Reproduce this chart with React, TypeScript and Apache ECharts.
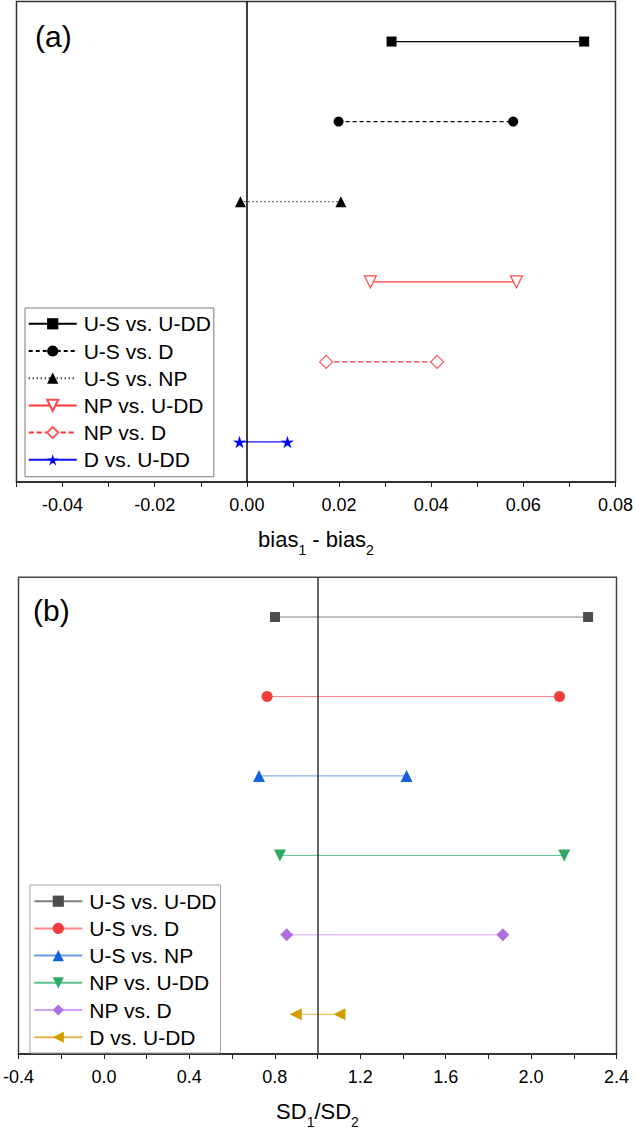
import React, { useEffect, useRef } from 'react';
import * as echarts from 'echarts';

// ---- data ----
const categories = ['U-S vs. U-DD', 'U-S vs. D', 'U-S vs. NP', 'NP vs. U-DD', 'NP vs. D', 'D vs. U-DD'];
const biasLow = [0.0314, 0.0199, -0.0014, 0.0268, 0.0172, -0.0016];
const biasHigh = [0.0732, 0.0578, 0.0204, 0.0585, 0.0413, 0.0088];
const sdLow = [0.801, 0.764, 0.726, 0.824, 0.856, 0.898];
const sdHigh = [2.267, 2.133, 1.417, 2.155, 1.868, 1.103];
const biasRange = [-0.05, 0.08];
const sdRange = [-0.4, 2.4];
const biasRef = 0;
const sdRef = 1;

const FONT = '"Liberation Sans", Arial, Helvetica, sans-serif';
const STAR = 'path://M50,0L61.2,35.5L97.6,34.5L68.1,56L79.4,90.5L50,69L20.6,90.5L31.9,56L2.4,34.5L38.8,35.5Z';

const styleA = [
  { symbol: 'rect', size: 10, rotate: 0, line: '#000', lineType: 'solid', fill: '#000', border: '#000' },
  { symbol: 'circle', size: 10, rotate: 0, line: '#000', lineType: [4, 3], fill: '#000', border: '#000' },
  { symbol: 'triangle', size: 11, rotate: 0, line: '#000', lineType: [1, 3], fill: '#000', border: '#000' },
  { symbol: 'triangle', size: 12, rotate: 180, line: '#ff3838', lineType: 'solid', fill: '#fff', border: '#ff4a4a' },
  { symbol: 'diamond', size: 13, rotate: 0, line: '#ff3030', lineType: [5, 3], fill: '#fff', border: '#ff5a5a' },
  { symbol: STAR, size: 13, rotate: 0, line: '#1010ff', lineType: 'solid', fill: '#0000ff', border: '#0000ff' },
];
const styleB = [
  { symbol: 'rect', size: 10, rotate: 0, line: '#7f7f7f', fill: '#4d4d4d' },
  { symbol: 'circle', size: 11, rotate: 0, line: '#ff8585', fill: '#f23c3c' },
  { symbol: 'triangle', size: 12, rotate: 0, line: '#6a9be3', fill: '#1562d8' },
  { symbol: 'triangle', size: 12, rotate: 180, line: '#5cc28c', fill: '#2ea862' },
  { symbol: 'diamond', size: 13, rotate: 0, line: '#d4a3f2', fill: '#b06ee0' },
  { symbol: 'triangle', size: 12, rotate: 90, line: '#e6b54a', fill: '#d49c00' },
];

const nameRich = {
  n: { fontSize: 22, lineHeight: 22, verticalAlign: 'top', fontFamily: FONT, color: '#000' },
  s: { fontSize: 14, lineHeight: 14, verticalAlign: 'top', padding: [14.5, 0, 0, 0], fontFamily: FONT, color: '#000' },
};

function buildOption() {
  const seriesA = categories.map((c, i) => {
    const st = styleA[i];
    const s: any = {
      type: 'line',
      name: c,
      xAxisIndex: 0,
      yAxisIndex: 0,
      data: [[biasLow[i], c], [biasHigh[i], c]],
      symbol: st.symbol,
      symbolSize: st.size,
      symbolRotate: st.rotate,
      symbolKeepAspect: true,
      lineStyle: { color: st.line, width: 1.3, type: st.lineType },
      itemStyle: { color: st.fill, borderColor: st.border, borderWidth: st.fill === '#fff' ? 1.2 : 0 },
      silent: true,
      z: 3,
    };
    if (i === 0) {
      s.markLine = {
        silent: true,
        symbol: ['none', 'none'],
        label: { show: false },
        lineStyle: { color: '#000', width: 1.5, type: 'solid' },
        data: [{ xAxis: biasRef }],
      };
    }
    return s;
  });
  const seriesB = categories.map((c, i) => {
    const st = styleB[i];
    const s: any = {
      type: 'line',
      name: c + ' ',
      xAxisIndex: 1,
      yAxisIndex: 1,
      data: [[sdLow[i], c], [sdHigh[i], c]],
      symbol: st.symbol,
      symbolSize: st.size,
      symbolRotate: st.rotate,
      lineStyle: { color: st.line, width: 1, type: 'solid' },
      itemStyle: { color: st.fill, borderWidth: 0 },
      silent: true,
      z: 3,
    };
    if (i === 0) {
      s.markLine = {
        silent: true,
        symbol: ['none', 'none'],
        label: { show: false },
        lineStyle: { color: '#333', width: 1.5, type: 'solid' },
        data: [{ xAxis: sdRef }],
      };
    }
    return s;
  });

  const axisCommon = (gridIndex: number) => ({
    gridIndex,
    type: 'value',
    axisLine: { show: true, onZero: false, lineStyle: { color: '#222', width: 1.5 } },
    axisTick: { show: true, length: 5, lineStyle: { color: '#222', width: 1 } },
    splitLine: { show: false },
    nameLocation: 'middle',
  });

  const legendCommon = {
    orient: 'vertical',
    selectedMode: false,
    itemWidth: 48,
    itemHeight: 14,
    itemGap: 6.2,
    borderWidth: 1,
    backgroundColor: '#fff',
    textStyle: { fontSize: 21, lineHeight: 20, color: '#000', fontFamily: FONT, padding: [0, 0, 0, 2] },
  };

  return {
    animation: false,
    backgroundColor: '#fff',
    textStyle: { fontFamily: FONT },
    grid: [
      { left: 16.5, top: 1.5, width: 600, height: 480.5, show: true, borderColor: '#333', borderWidth: 1.5, backgroundColor: 'transparent' },
      { left: 16.5, top: 577.3, width: 600, height: 480, show: true, borderColor: '#444', borderWidth: 1.5, backgroundColor: 'transparent' },
    ],
    xAxis: [
      {
        ...axisCommon(0),
        min: biasRange[0],
        max: biasRange[1],
        interval: 0.01,
        axisLabel: {
          margin: 13.5, fontSize: 18, color: '#000', fontFamily: FONT, showMinLabel: true, showMaxLabel: true,
          formatter: (v: number) => {
            const k = Math.round(v * 100);
            return k % 2 === 0 ? (k / 100 + 0).toFixed(2) : '';
          },
        },
        name: '{n|bias}{s|1}{n| - bias}{s|2}',
        nameGap: 46,
        nameTextStyle: { rich: nameRich },
      },
      {
        ...axisCommon(1),
        min: sdRange[0],
        max: sdRange[1],
        interval: 0.2,
        axisLabel: {
          margin: 14, fontSize: 18, color: '#000', fontFamily: FONT, showMinLabel: true, showMaxLabel: true,
          formatter: (v: number) => {
            const k = Math.round(v * 10);
            return k % 4 === 0 ? (k / 10 + 0).toFixed(1) : '';
          },
        },
        name: '{n|SD}{s|1}{n|/SD}{s|2}',
        nameGap: 46.5,
        nameTextStyle: { rich: nameRich },
      },
    ],
    yAxis: [0, 1].map((g) => ({
      gridIndex: g,
      type: 'category',
      data: categories,
      inverse: true,
      boundaryGap: true,
      axisLine: { show: false },
      axisTick: { show: false },
      axisLabel: { show: false },
      splitLine: { show: false },
    })),
    legend: [
      {
        ...legendCommon,
        left: 25,
        top: 308,
        padding: [5.3, 3, 6.4, 2.7],
        borderColor: '#7a7a7a',
        data: categories.map((c) => ({ name: c })),
      },
      {
        ...legendCommon,
        left: 30,
        top: 885,
        padding: [5.7, 4, 5.3, 3.3],
        borderColor: '#a0a0a0',
        data: categories.map((c) => ({ name: c + ' ' })),
        formatter: (n: string) => n.trim(),
      },
    ],
    graphic: [
      { type: 'text', left: 35, top: 21, z: 10, style: { text: '(a)', fontSize: 30, fill: '#000', fontFamily: FONT } },
      { type: 'text', left: 33, top: 595, z: 10, style: { text: '(b)', fontSize: 30, fill: '#000', fontFamily: FONT } },
    ],
    series: [...seriesA, ...seriesB],
  };
}

export default function App() {
  const ref = useRef<HTMLDivElement>(null);
  useEffect(() => {
    document.body.style.margin = '0';
    const chart = echarts.init(ref.current as HTMLDivElement, null, { renderer: 'svg' });
    chart.setOption(buildOption() as any);
    return () => chart.dispose();
  }, []);
  return <div ref={ref} style={{ width: 636, height: 1130 }} />;
}
